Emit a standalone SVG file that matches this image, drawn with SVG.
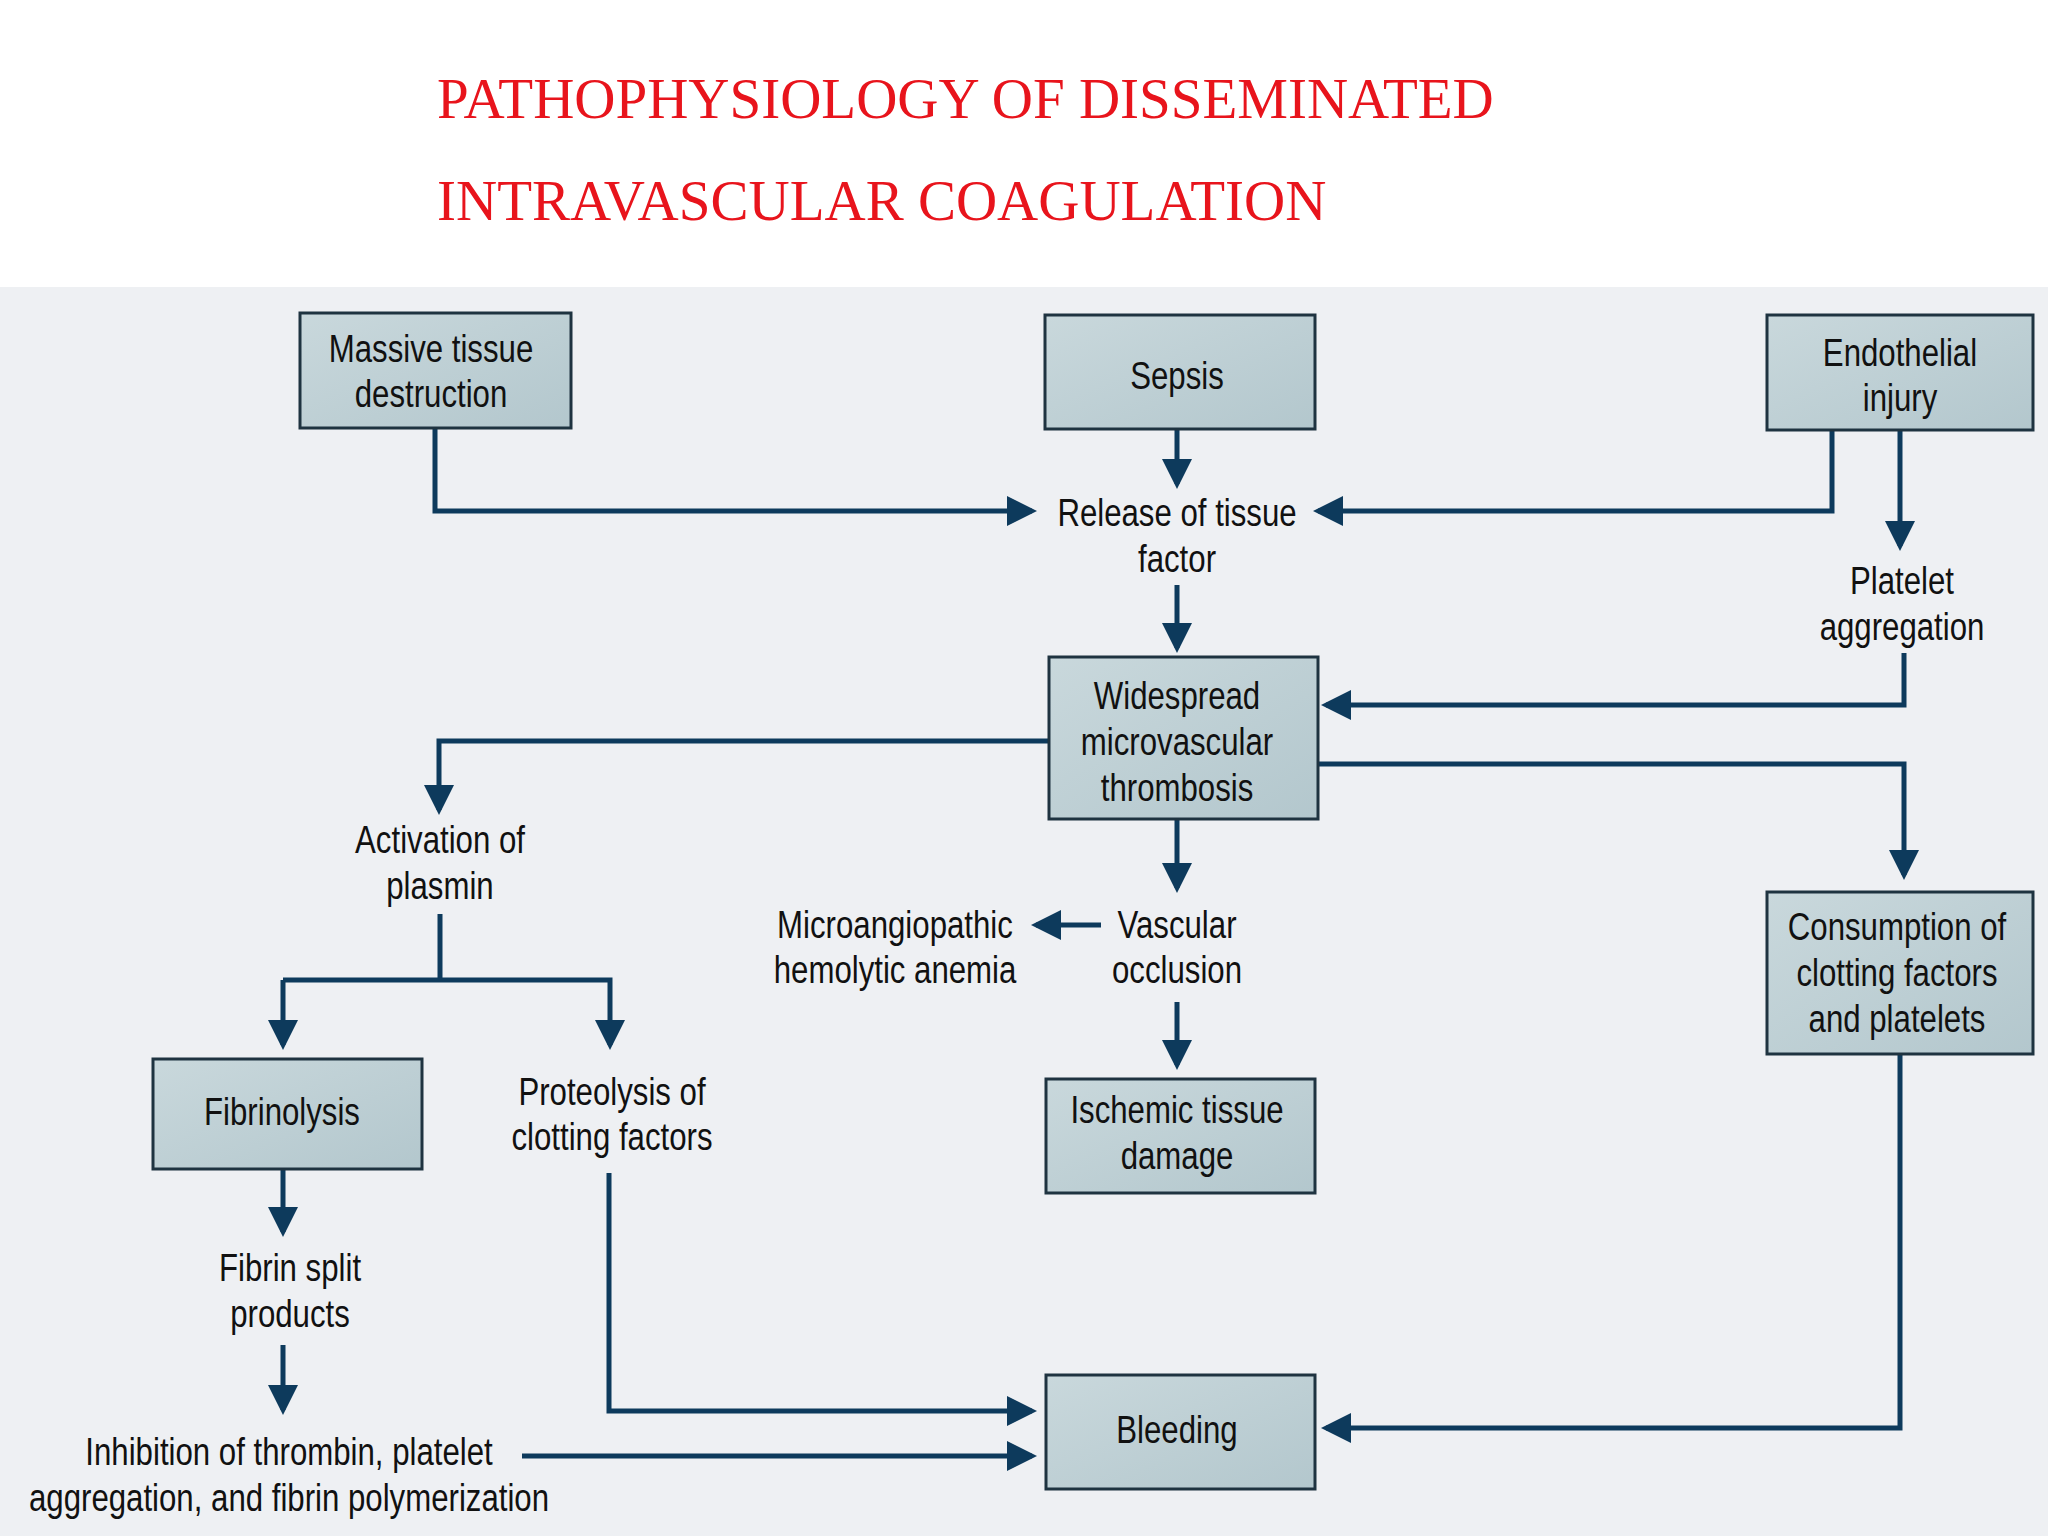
<svg xmlns="http://www.w3.org/2000/svg" width="2048" height="1536" viewBox="0 0 2048 1536">
<defs>
<marker id="ah" markerWidth="6" markerHeight="6" refX="5" refY="3" orient="auto" markerUnits="strokeWidth"><path d="M0,0 L6,3 L0,6 z" fill="#0d3a5c"/></marker>
<linearGradient id="bg" x1="0" y1="0" x2="1" y2="1"><stop offset="0" stop-color="#c9d8dc"/><stop offset="1" stop-color="#b3c7cd"/></linearGradient>
</defs>
<style>
.box{fill:url(#bg);stroke:#1e3340;stroke-width:3}
.t{font-family:"Liberation Sans",Arial,sans-serif;font-size:39px;fill:#111;text-anchor:middle;transform:scaleX(0.8);transform-box:fill-box;transform-origin:center}
.ti{font-family:"Liberation Serif","Times New Roman",serif;font-size:57px;fill:#e8141c}
.c{fill:none;stroke:#0d3a5c;stroke-width:5;marker-end:url(#ah)}
.n{fill:none;stroke:#0d3a5c;stroke-width:5}
</style>
<rect width="2048" height="1536" fill="#ffffff"/>
<rect y="287" width="2048" height="1249" fill="#eef0f3"/>
<text class="ti" x="437" y="118">PATHOPHYSIOLOGY OF DISSEMINATED</text>
<text class="ti" x="437" y="220">INTRAVASCULAR COAGULATION</text>
<g id="connectors">
<path class="c" d="M435,428 V511 H1032"/>
<path class="c" d="M1177,428 V484"/>
<path class="c" d="M1832,430 V511 H1318"/>
<path class="c" d="M1900,430 V546"/>
<path class="c" d="M1177,585 V648"/>
<path class="c" d="M1904,653 V705 H1326"/>
<path class="c" d="M1318,764 H1904 V875"/>
<path class="c" d="M1049,741 H439 V810"/>
<path class="c" d="M1177,819 V888"/>
<path class="c" d="M1101,925 H1036"/>
<path class="c" d="M1177,1002 V1065"/>
<path class="n" d="M440,914 V980"/>
<path class="c" d="M283,980 H610 V1045"/>
<path class="c" d="M283,980 V1045"/>
<path class="c" d="M283,1169 V1232"/>
<path class="c" d="M283,1345 V1410"/>
<path class="c" d="M609,1173 V1411 H1032"/>
<path class="c" d="M522,1456 H1032"/>
<path class="c" d="M1900,1054 V1428 H1326"/>
</g>
<g id="massive"><rect class="box" x="300" y="313" width="271" height="115"/><text class="t" x="431" y="362">Massive tissue</text><text class="t" x="431" y="407">destruction</text></g>
<g id="sepsis"><rect class="box" x="1045" y="315" width="270" height="114"/><text class="t" x="1177" y="389">Sepsis</text></g>
<g id="endothelial"><rect class="box" x="1767" y="315" width="266" height="115"/><text class="t" x="1900" y="366">Endothelial</text><text class="t" x="1900" y="411">injury</text></g>
<g id="release"><text class="t" x="1177" y="526">Release of tissue</text><text class="t" x="1177" y="572">factor</text></g>
<g id="platelet"><text class="t" x="1902" y="594">Platelet</text><text class="t" x="1902" y="640">aggregation</text></g>
<g id="widespread"><rect class="box" x="1049" y="657" width="269" height="162"/><text class="t" x="1177" y="709">Widespread</text><text class="t" x="1177" y="755">microvascular</text><text class="t" x="1177" y="801">thrombosis</text></g>
<g id="activation"><text class="t" x="440" y="853">Activation of</text><text class="t" x="440" y="899">plasmin</text></g>
<g id="micro"><text class="t" x="895" y="938">Microangiopathic</text><text class="t" x="895" y="983">hemolytic anemia</text></g>
<g id="vascular"><text class="t" x="1177" y="938">Vascular</text><text class="t" x="1177" y="983">occlusion</text></g>
<g id="consumption"><rect class="box" x="1767" y="892" width="266" height="162"/><text class="t" x="1897" y="940">Consumption of</text><text class="t" x="1897" y="986">clotting factors</text><text class="t" x="1897" y="1032">and platelets</text></g>
<g id="fibrinolysis"><rect class="box" x="153" y="1059" width="269" height="110"/><text class="t" x="282" y="1125">Fibrinolysis</text></g>
<g id="proteolysis"><text class="t" x="612" y="1105">Proteolysis of</text><text class="t" x="612" y="1150">clotting factors</text></g>
<g id="ischemic"><rect class="box" x="1046" y="1079" width="269" height="114"/><text class="t" x="1177" y="1123">Ischemic tissue</text><text class="t" x="1177" y="1169">damage</text></g>
<g id="fibrinsplit"><text class="t" x="290" y="1281">Fibrin split</text><text class="t" x="290" y="1327">products</text></g>
<g id="bleeding"><rect class="box" x="1046" y="1375" width="269" height="114"/><text class="t" x="1177" y="1443">Bleeding</text></g>
<g id="inhibition"><text class="t" x="289" y="1465">Inhibition of thrombin, platelet</text><text class="t" x="289" y="1511">aggregation, and fibrin polymerization</text></g>
</svg>
